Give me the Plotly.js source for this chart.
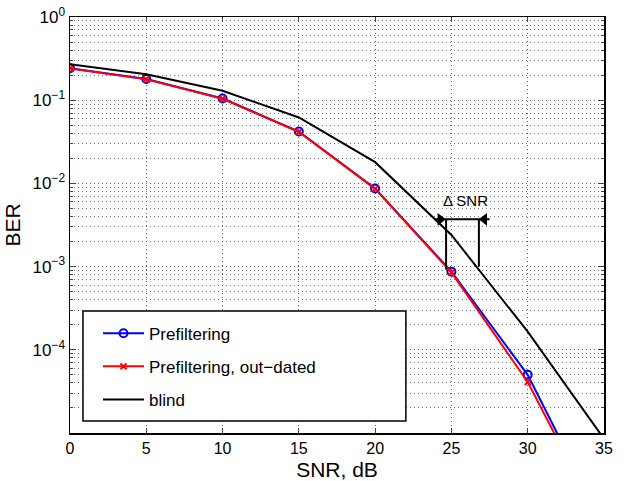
<!DOCTYPE html>
<html>
<head>
<meta charset="utf-8">
<script src="https://cdn.plot.ly/plotly-3.0.1.min.js"></script>
<style>html,body{margin:0;padding:0;background:#fff;}#chart{width:637px;height:481px;}</style>
</head>
<body>
<div id="chart"></div>
<script>
// ---- data ----
const snr = [0, 5, 10, 15, 20, 25, 30, 35];
const berPrefiltering = [0.242, 0.18, 0.105, 0.042, 0.0087, 8.7e-4, 5.0e-5, 7.6e-7];
const berOutdated = [0.240, 0.178, 0.104, 0.0415, 0.0086, 8.5e-4, 4.1e-5, 7.0e-7];
const berBlind = [0.27, 0.205, 0.13, 0.062, 0.018, 2.4e-3, 1.65e-4, 8.5e-6];
const seriesNames = ["Prefiltering", "Prefiltering, out\u2212dated", "blind"];
const yTickVals = [1, 0.1, 0.01, 0.001, 0.0001];
const yTickText = ["10<sup>0</sup>", "10<sup>\u22121</sup>", "10<sup>\u22122</sup>", "10<sup>\u22123</sup>", "10<sup>\u22124</sup>"];
const xTickVals = [0, 5, 10, 15, 20, 25, 30, 35];
// Delta SNR bracket (annotation)
const dsnrBarX = [23.9, 27.5];
const dsnrBarY = 3.7e-3;
const dsnrLeftX = 24.65, dsnrLeftBottom = 9.2e-4;
const dsnrRightX = 26.8, dsnrRightBottom = 1.0e-3;
const dsnrLabel = "\u0394 SNR";

const minorVals = [];
for (let e = -5; e < 0; e++) for (let d = 2; d <= 9; d++) minorVals.push(d * Math.pow(10, e));

const font = "Liberation Sans, Arial, Helvetica, sans-serif";
const gridDash = "1px,3px";

const traces = [
  {x: snr, y: berPrefiltering, name: seriesNames[0], mode: "lines+markers", legendgroup: "a",
   line: {color: "#0000ff", width: 2}, marker: {symbol: "circle-open", size: 8, color: "#0000ff", line: {width: 2}}},
  {x: snr, y: berOutdated, name: seriesNames[1], mode: "lines+markers", legendgroup: "b",
   line: {color: "#ff0000", width: 2}, marker: {symbol: "x-thin-open", size: 6, color: "#ff0000", line: {width: 2, color: "#ff0000"}}},
  {x: snr, y: berBlind, name: seriesNames[2], mode: "lines", legendgroup: "c",
   line: {color: "#000000", width: 2}},
  // bracket
  {x: dsnrBarX, y: [dsnrBarY, dsnrBarY], mode: "lines", showlegend: false, hoverinfo: "skip",
   line: {color: "#000", width: 2}},
  {x: [dsnrLeftX, dsnrLeftX], y: [dsnrBarY, dsnrLeftBottom], mode: "lines", showlegend: false, hoverinfo: "skip",
   line: {color: "#000", width: 2}},
  {x: [dsnrRightX, dsnrRightX], y: [dsnrBarY, dsnrRightBottom], mode: "lines", showlegend: false, hoverinfo: "skip",
   line: {color: "#000", width: 2}},
  {x: [(dsnrBarX[0] + dsnrLeftX) / 2, (dsnrBarX[1] + dsnrRightX) / 2], y: [dsnrBarY, dsnrBarY], mode: "markers",
   showlegend: false, hoverinfo: "skip",
   marker: {symbol: ["triangle-right", "triangle-left"], size: 11, color: "#000"}}
];

const layout = {
  width: 637, height: 481,
  margin: {l: 70, r: 33, t: 17, b: 48},
  paper_bgcolor: "#fff", plot_bgcolor: "#fff",
  font: {family: font, size: 16, color: "#000"},
  showlegend: true,
  legend: {x: 0.0524, y: 0.282, xanchor: "left", yanchor: "top", bgcolor: "rgba(0,0,0,0)",
           borderwidth: 0, font: {size: 17, family: font},
           tracegroupgap: 8, itemwidth: 41},
  shapes: [{type: "rect", xref: "paper", yref: "paper", x0: 0.0243, x1: 0.629, y0: 0.0288, y1: 0.2933,
            line: {color: "#000", width: 1.5}, fillcolor: "#fff", layer: "above"}],
  xaxis: {range: [0, 35], tickvals: xTickVals, ticks: "inside", ticklen: 5, tickwidth: 1,
          showline: true, linecolor: "#000", linewidth: 1.5, mirror: "allticks",
          showgrid: true, gridcolor: "#666", griddash: gridDash, gridwidth: 1, zeroline: false,
          tickfont: {size: 16}, title: {text: "SNR, dB", font: {size: 21}, standoff: 9}},
  yaxis: {type: "log", range: [-5, 0], tickvals: yTickVals, ticktext: yTickText,
          ticks: "inside", ticklen: 6, tickwidth: 1,
          showline: true, linecolor: "#000", linewidth: 1.5, mirror: "allticks",
          showgrid: true, gridcolor: "#666", griddash: gridDash, gridwidth: 1, zeroline: false,
          tickfont: {size: 17}, title: {text: "BER", font: {size: 21}, standoff: 6},
          minor: {tickvals: minorVals, ticks: "inside", ticklen: 3, showgrid: true,
                  gridcolor: "#777", griddash: gridDash, gridwidth: 1}},
  annotations: [{x: 25.9, y: Math.log10(6.2e-3), xref: "x", yref: "y", text: dsnrLabel,
                 showarrow: false, font: {size: 15}}]
};

Plotly.newPlot("chart", traces, layout, {displayModeBar: false, staticPlot: true});
</script>
</body>
</html>
